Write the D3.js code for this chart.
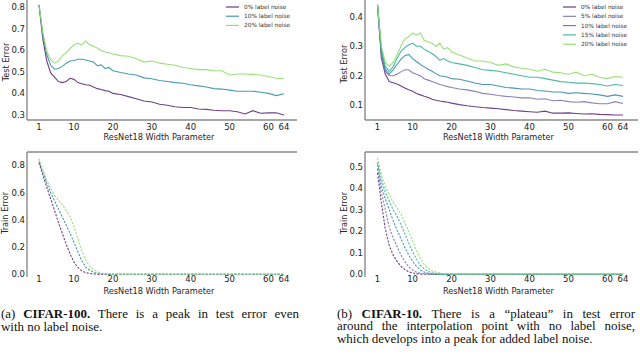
<!DOCTYPE html>
<meta charset="utf-8">
<script src="https://d3js.org/d3.v7.min.js"></script>
<style>
  body { margin: 0; background: #fff; }
</style>
<div id="my_dataviz"></div>
<script>
// widths where test error was measured
var testWidths = [1,2,3,4,5,6,7,8,9,10,11,12,13,14,15,16,17,18,19,20,
  22,24,26,28,30,32,34,36,38,40,42,44,46,48,50,52,54,56,58,60,62,64];
var trainWidths = [1,2,3,4,5,6,7,8,9,10,11,12,13,14,15,16,17,18,19,20,25,30,40,50,60,64];
var xTicks = [1,10,20,30,40,50,60,64];

// CIFAR-100 test error
var c100Test0 = [.81,.65,.55,.495,.475,.455,.45,.455,.47,.465,.45,.445,.44,.438,.43,.422,.418,.413,.41,.40,
  .395,.385,.375,.365,.36,.35,.345,.338,.335,.335,.328,.326,.322,.32,.32,.315,.305,.32,.308,.31,.31,.30];
var c100Test10 = [.81,.67,.58,.53,.512,.515,.525,.54,.55,.552,.558,.558,.555,.55,.545,.528,.532,.515,.52,.505,
  .497,.49,.485,.472,.468,.46,.455,.45,.447,.44,.435,.43,.422,.42,.415,.41,.41,.41,.405,.40,.39,.398];
var c100Test20 = [.81,.68,.595,.555,.54,.55,.575,.588,.608,.625,.632,.625,.642,.625,.618,.61,.598,.592,.588,.582,
  .575,.572,.56,.545,.55,.54,.535,.53,.52,.515,.51,.51,.505,.505,.485,.49,.49,.488,.485,.478,.47,.468];

// CIFAR-10 test error
var c10Test0 = [.44,.26,.205,.18,.176,.172,.165,.158,.152,.147,.14,.135,.13,.126,.12,.117,.114,.112,.11,.107,
  .102,.098,.095,.092,.09,.088,.085,.082,.08,.078,.076,.08,.073,.073,.074,.072,.07,.071,.069,.068,.067,.067];
var c10Test5 = [.44,.27,.215,.2,.2,.205,.213,.22,.22,.21,.205,.2,.19,.185,.18,.175,.17,.167,.163,.16,
  .155,.152,.147,.14,.137,.133,.13,.128,.125,.125,.12,.122,.115,.117,.112,.11,.112,.108,.105,.105,.112,.106];
var c10Test10 = [.44,.28,.222,.205,.22,.238,.255,.268,.272,.258,.248,.238,.23,.222,.215,.207,.2,.198,.195,.19,
  .188,.182,.175,.17,.17,.165,.16,.158,.155,.155,.15,.148,.145,.145,.14,.142,.14,.138,.135,.13,.135,.13];
var c10Test15 = [.44,.29,.232,.215,.23,.258,.282,.295,.305,.31,.30,.30,.29,.282,.275,.265,.252,.258,.25,.245,
  .24,.235,.228,.22,.218,.215,.21,.205,.20,.195,.195,.19,.185,.18,.178,.175,.175,.173,.17,.165,.17,.167];
var c10Test20 = [.44,.30,.245,.232,.245,.27,.30,.325,.332,.345,.338,.345,.32,.315,.31,.30,.31,.29,.295,.28,
  .27,.26,.25,.25,.245,.235,.24,.23,.225,.222,.215,.222,.212,.21,.205,.212,.20,.205,.195,.19,.197,.195];

// CIFAR-100 train error
var c100Train0 = [.82,.73,.64,.555,.47,.38,.30,.22,.15,.09,.05,.025,.012,.006,.003,.001,0,0,0,0,0,0,0,0,0,0];
var c100Train10 = [.83,.75,.67,.60,.54,.48,.42,.36,.30,.235,.165,.10,.055,.03,.015,.008,.004,.002,.001,0,0,0,0,0,0,0];
var c100Train20 = [.85,.77,.69,.63,.58,.545,.51,.47,.42,.35,.26,.175,.105,.06,.035,.02,.01,.005,.003,.001,0,0,0,0,0,0];

// CIFAR-10 train error
var c10Train0 = [.47,.33,.21,.135,.09,.06,.038,.022,.012,.006,.003,.001,0,0,0,0,0,0,0,0,0,0,0,0,0,0];
var c10Train5 = [.49,.38,.30,.22,.17,.13,.09,.06,.035,.02,.01,.005,.002,.001,0,0,0,0,0,0,0,0,0,0,0,0];
var c10Train10 = [.51,.41,.35,.30,.25,.205,.165,.125,.09,.06,.037,.02,.01,.005,.002,.001,0,0,0,0,0,0,0,0,0,0];
var c10Train15 = [.52,.44,.38,.34,.30,.27,.23,.19,.145,.105,.07,.042,.025,.013,.007,.003,.001,0,0,0,0,0,0,0,0,0];
var c10Train20 = [.54,.46,.41,.37,.335,.31,.28,.24,.20,.155,.11,.075,.045,.027,.016,.01,.006,.003,.002,.001,0,0,0,0,0,0];

var labels3 = ["0% label noise", "10% label noise", "20% label noise"];
var labels5 = ["0% label noise", "5% label noise", "10% label noise", "15% label noise", "20% label noise"];
var colors3 = ["#5f2c7c", "#3a8ea8", "#8fdd6c"];
var colors5 = ["#5f2c7c", "#7b74b6", "#3a8cab", "#39b09a", "#8fdd6c"];

var sans = "'DejaVu Sans', sans-serif";
var serif = "'Liberation Serif', 'Times New Roman', serif";

var svg = d3.select("#my_dataviz")
  .append("svg")
    .attr("width", 640)
    .attr("height", 354);

svg.append("rect").attr("width", 640).attr("height", 354).attr("fill", "#fff");

function drawPanel(p) {
  var x = d3.scaleLinear().domain(p.xDom).range([p.left, p.right]);
  var y = d3.scaleLinear().domain(p.yDom).range([p.bottom, p.top]);
  var g = svg.append("g").attr("font-family", sans);

  // spines
  g.append("line")
    .attr("x1", p.left).attr("x2", p.left)
    .attr("y1", p.top).attr("y2", p.bottom)
    .attr("stroke", "#8a8a8a").attr("stroke-width", 1.4);
  var sy = p.spineTop ? p.top : p.bottom;
  g.append("line")
    .attr("x1", p.left).attr("x2", p.right)
    .attr("y1", sy).attr("y2", sy)
    .attr("stroke", "#8a8a8a").attr("stroke-width", 1.4);

  // y tick labels
  g.selectAll(".yt").data(p.yTicks).enter().append("text")
    .attr("x", p.left - 2)
    .attr("y", function(d) { return y(d); })
    .attr("dy", "0.35em")
    .attr("text-anchor", "end")
    .attr("font-size", 8.5)
    .attr("fill", "#222")
    .text(function(d) { return d.toFixed(1); });

  // x tick labels
  g.selectAll(".xt").data(xTicks).enter().append("text")
    .attr("x", function(d) { return x(d); })
    .attr("y", p.xLabelY)
    .attr("dy", "0.35em")
    .attr("text-anchor", "middle")
    .attr("font-size", 8.5)
    .attr("fill", "#222")
    .text(function(d) { return d; });

  g.append("text")
    .attr("x", (p.left + p.right) / 2 - 3)
    .attr("y", p.xTitleY)
    .attr("dy", "0.35em")
    .attr("text-anchor", "middle")
    .attr("font-size", 8.2)
    .attr("fill", "#262626")
    .text("ResNet18 Width Parameter");

  g.append("text")
    .attr("transform", "translate(" + p.yTitleX + "," + p.yTitleY + ")rotate(-90)")
    .attr("dy", "0.35em")
    .attr("text-anchor", "middle")
    .attr("font-size", 8.2)
    .attr("fill", "#262626")
    .text(p.yTitle);

  var line = d3.line()
    .x(function(d) { return x(d[0]); })
    .y(function(d) { return y(d[1]); });

  p.series.forEach(function(s, i) {
    g.append("path")
      .datum(p.widths.map(function(w, j) { return [w, s[j]]; }))
      .attr("fill", "none")
      .attr("stroke", p.colors[i])
      .attr("stroke-width", 1.1)
      .attr("stroke-opacity", 0.9)
      .attr("stroke-dasharray", p.dashed ? "2.2,1.4" : null)
      .attr("d", line);
  });

  if (p.legend) {
    p.legend.forEach(function(t, i) {
      var ly = p.legendY + i * p.legendStep;
      g.append("line")
        .attr("x1", p.legendX).attr("x2", p.legendX + 13)
        .attr("y1", ly).attr("y2", ly)
        .attr("stroke", p.colors[i]).attr("stroke-width", 1.1);
      g.append("text")
        .attr("x", p.legendX + 18).attr("y", ly)
        .attr("dy", "0.35em")
        .attr("font-size", 5.8)
        .attr("fill", "#333")
        .text(t);
    });
  }
}

// top left: CIFAR-100 test
drawPanel({
  left: 27, right: 297, top: 0, bottom: 120,
  xDom: [1 - 12 / 3.889, 64 + 13 / 3.889], yDom: [0.8 - 113 / 216, 0.8 + 7 / 216],
  yTicks: [0.3, 0.4, 0.5, 0.6, 0.7, 0.8],
  xLabelY: 126.7, xTitleY: 137, yTitleX: 6, yTitleY: 62, yTitle: "Test Error",
  widths: testWidths, series: [c100Test0, c100Test10, c100Test20],
  colors: colors3, legend: labels3, legendX: 226, legendY: 7, legendStep: 9.2
});

// top right: CIFAR-10 test
drawPanel({
  left: 365, right: 638, top: 0, bottom: 120,
  xDom: [1 - 12.5 / 3.897, 64 + 15 / 3.897], yDom: [0.4 - 103.3 / 295, 0.4 + 16.7 / 295],
  yTicks: [0.1, 0.2, 0.3, 0.4],
  xLabelY: 126.7, xTitleY: 137, yTitleX: 344, yTitleY: 64, yTitle: "Test Error",
  widths: testWidths, series: [c10Test0, c10Test5, c10Test10, c10Test15, c10Test20],
  colors: colors5, legend: labels5, legendX: 563, legendY: 7, legendStep: 9.3
});

// bottom left: CIFAR-100 train
drawPanel({
  left: 27, right: 297, top: 152, bottom: 277, spineTop: true,
  xDom: [1 - 12 / 3.889, 64 + 13 / 3.889], yDom: [-2.7 / 136, 122.3 / 136],
  yTicks: [0.0, 0.2, 0.4, 0.6, 0.8],
  xLabelY: 279, xTitleY: 291, yTitleX: 5, yTitleY: 213, yTitle: "Train Error",
  widths: trainWidths, series: [c100Train0, c100Train10, c100Train20],
  colors: colors3, dashed: true
});

// bottom right: CIFAR-10 train
drawPanel({
  left: 365, right: 638, top: 152, bottom: 277, spineTop: true,
  xDom: [1 - 12.5 / 3.897, 64 + 15 / 3.897], yDom: [-2.7 / 215, 122 / 215],
  yTicks: [0.0, 0.1, 0.2, 0.3, 0.4, 0.5],
  xLabelY: 279, xTitleY: 291, yTitleX: 344, yTitleY: 213, yTitle: "Train Error",
  widths: trainWidths, series: [c10Train0, c10Train5, c10Train10, c10Train15, c10Train20],
  colors: colors5, dashed: true
});

// captions: slightly widened glyphs, justified by widening the word gaps
var capScale = 1.08;
function capLine(x, y, parts, width) {
  var t = svg.append("text")
    .attr("transform", "translate(" + x + "," + y + ")scale(" + capScale + ",1)")
    .attr("font-family", serif)
    .attr("font-size", 12)
    .attr("fill", "#111");
  parts.forEach(function(pt) {
    t.append("tspan").attr("font-weight", pt[1] ? "bold" : null).text(pt[0]);
  });
  if (width) {
    var target = width / capScale;
    var natural = t.node().getComputedTextLength();
    var gaps = parts.map(function(pt) { return pt[0]; }).join("").split(" ").length - 1;
    if (gaps > 0 && natural < target) t.attr("word-spacing", (target - natural) / gaps);
  }
}
capLine(1, 317.5, [["(a) "], ["CIFAR-100.", true], [" There is a peak in test error even"]], 298);
capLine(1, 331, [["with no label noise."]]);
capLine(337, 317.5, [["(b) "], ["CIFAR-10.", true], [" There is a \u201cplateau\u201d in test error"]], 298);
capLine(337, 330, [["around the interpolation point with no label noise,"]], 298);
capLine(337, 342.5, [["which develops into a peak for added label noise."]]);
</script>
